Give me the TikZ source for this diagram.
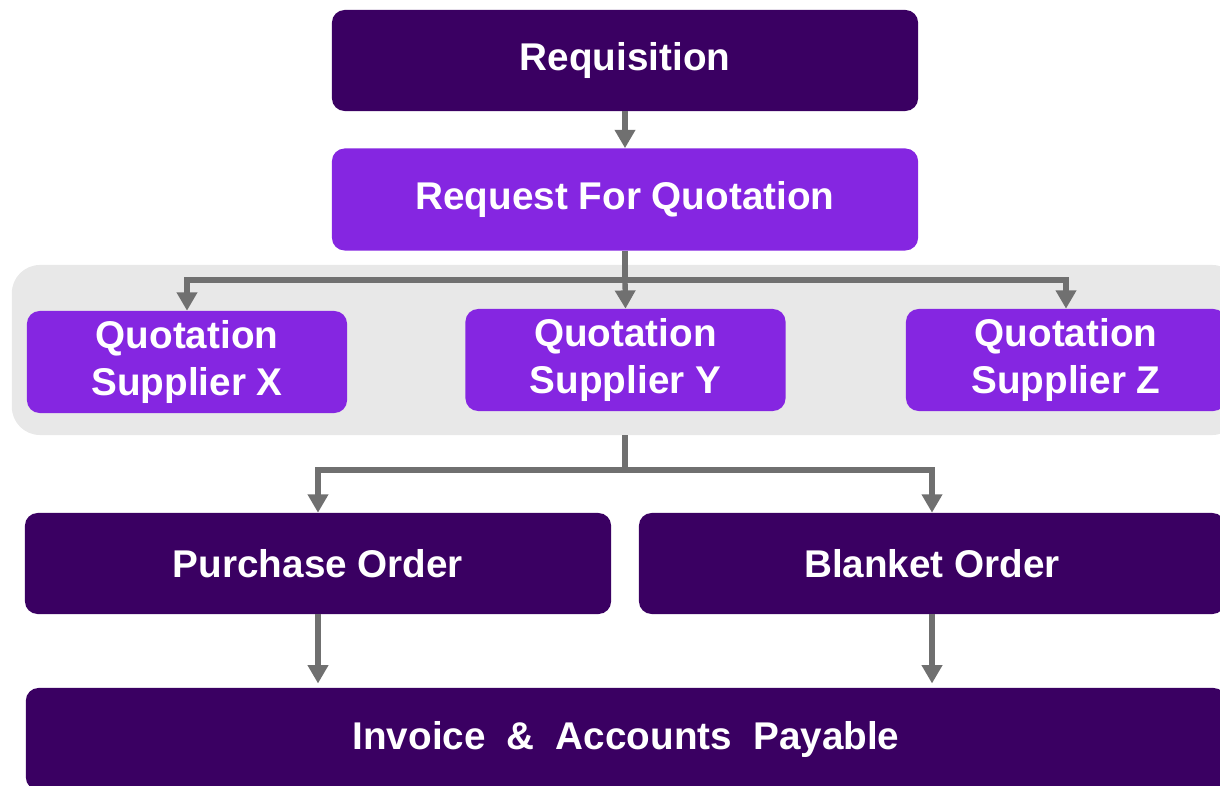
\documentclass[tikz,border=0pt]{standalone}
\usepackage{fontspec}
\setmainfont{Liberation Sans}
\usepackage{xcolor}
\usepackage{tikz}
\usetikzlibrary{arrows.meta, positioning}
\definecolor{proc-dark}{HTML}{3A0062}
\definecolor{proc-violet}{HTML}{8526E1}
\definecolor{proc-gray}{HTML}{707070}
\definecolor{proc-panel}{HTML}{E8E8E8}

\begin{document}
\begin{tikzpicture}[
			x=0.025cm, y=-0.025cm,
			stage/.style={
				fill=proc-dark, rounded corners=9pt,
				minimum width=14.65cm, minimum height=2.525cm,
				inner sep=0pt, align=center,
				font=\fontsize{27.5}{34}\selectfont\bfseries\color{white}
			},
			quotebox/.style={stage, fill=proc-violet, minimum width=8cm, minimum height=2.55cm},
			panelbox/.style={fill=proc-panel, rounded corners=20pt, minimum width=30.7cm, minimum height=4.25cm, inner sep=0pt},
			flow/.style={draw=proc-gray, line width=3.8pt, -{Triangle[length=13pt, width=14pt]}},
			link/.style={draw=proc-gray, line width=3.8pt}
			]
			\useasboundingbox (0,0) rectangle (1220,786);
			\node[panelbox] (panel) at (626,350) {};
			\node[stage] (req) at (625,60.5) {Requisition};
			\node[quotebox, minimum width=14.65cm] (rfq) at (625,199.5) {Request For Quotation};
			\node[quotebox] (qx) at (187,362) {Quotation\\Supplier X};
			\node[quotebox] (qy) at (625.5,360) {Quotation\\Supplier Y};
			\node[quotebox] (qz) at (1066,360) {Quotation\\Supplier Z};
			\node[stage] (po) at (318,563.5) {Purchase Order};
			\node[stage] (bo) at (932,563.5) {Blanket Order};
			\node[stage, minimum width=30cm, minimum height=2.55cm] (inv) at (626,739)
				{\spaceskip=15pt Invoice \& Accounts Payable};
			% requisition to rfq
			\draw[flow] (req.south) -- (rfq.north);
			% rfq fans out to the suppliers
			\coordinate (split) at (625,280);
			\draw[link] (rfq.south) -- (split);
			\draw[flow] (split) -| (qx.north);
			\draw[flow] (split) -| (qz.north);
			\draw[flow] (split) -- (qy.north);
			% quotations to orders
			\coordinate (merge) at (625,470);
			\draw[link] (rfq.south |- panel.south) -- (merge);
			\draw[flow] (merge) -| (po.north);
			\draw[flow] (merge) -| (bo.north);
			% orders to invoice
			\draw[flow, shorten >=3pt] (po.south) -- (po.south |- inv.north);
			\draw[flow, shorten >=3pt] (bo.south) -- (bo.south |- inv.north);
		\end{tikzpicture}
\end{document}
